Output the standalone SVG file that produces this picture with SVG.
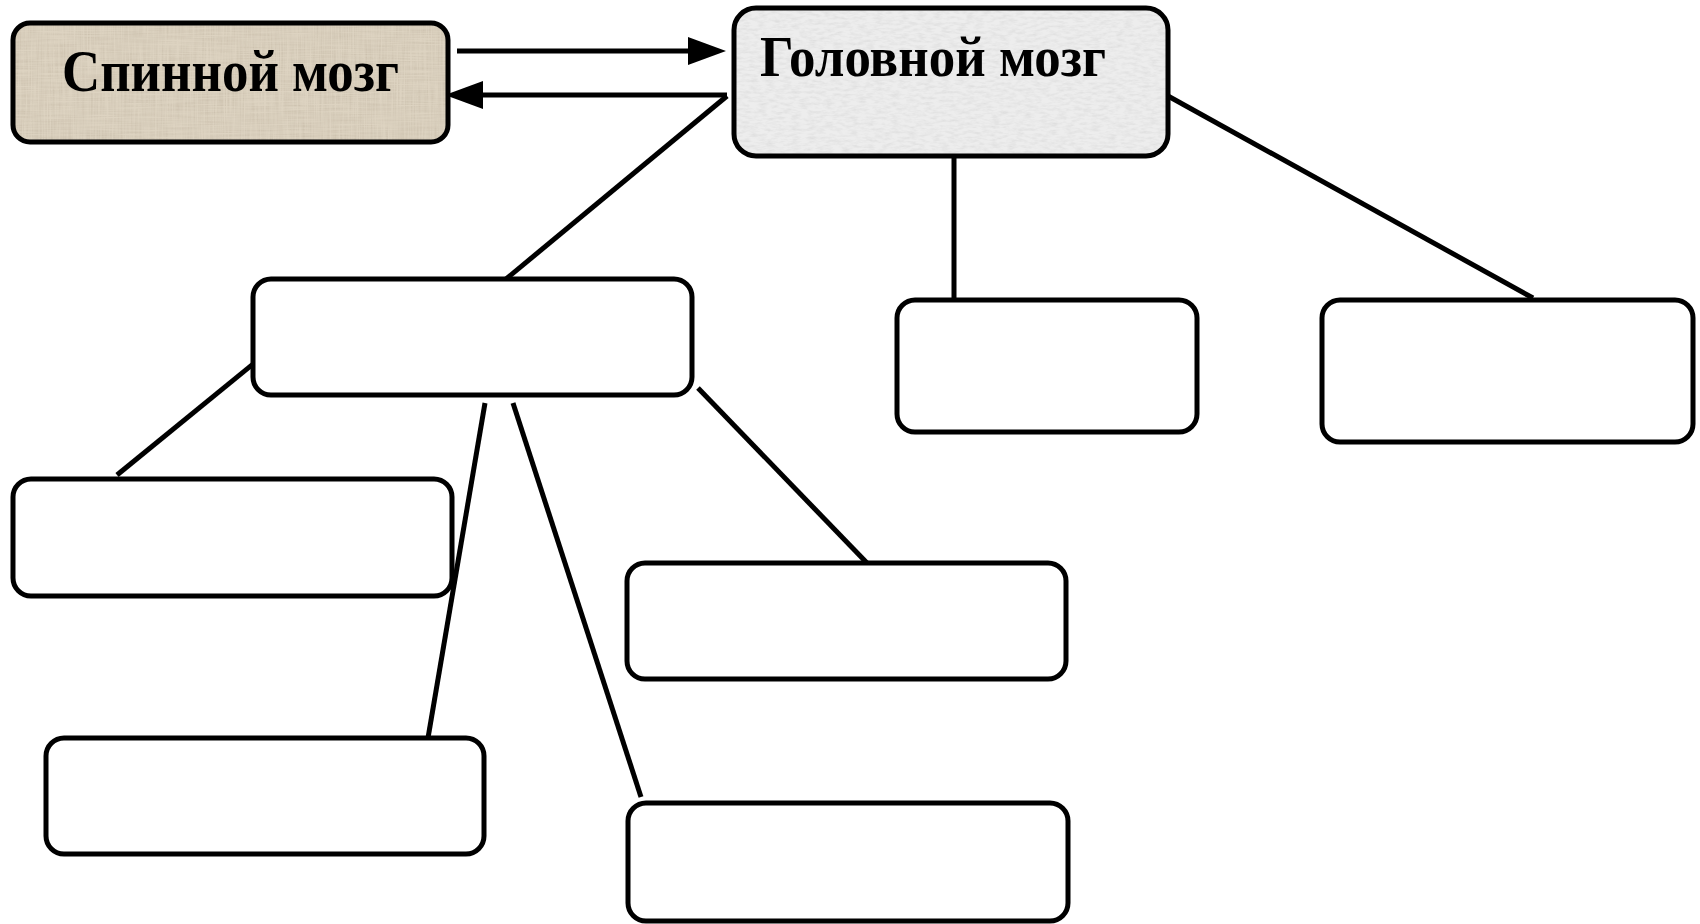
<svg xmlns="http://www.w3.org/2000/svg" width="1700" height="924" viewBox="0 0 1700 924">
<defs>
<style>
.box{fill:#ffffff;stroke:#000;stroke-width:5}
.frame{fill:none;stroke:#000;stroke-width:5}
.conn{stroke:#000;stroke-width:5;fill:none}
.title{font-family:"Liberation Serif","Times New Roman",serif;font-weight:bold;fill:#000}
</style>
<marker id="ah" markerUnits="userSpaceOnUse" markerWidth="40" markerHeight="30" refX="0" refY="14" orient="auto">
<path d="M0,0 L38,14 L0,28 Z" fill="#000"/>
</marker>
<filter id="linen" x="0" y="0" width="100%" height="100%">
<feTurbulence type="fractalNoise" baseFrequency="0.7 0.025" numOctaves="2" seed="3" result="n1"/>
<feTurbulence type="fractalNoise" baseFrequency="0.025 0.7" numOctaves="2" seed="9" result="n2"/>
<feBlend in="n1" in2="n2" mode="multiply" result="n"/>
<feColorMatrix in="n" type="matrix" values="0 0 0 0 0.6  0 0 0 0 0.53  0 0 0 0 0.42  2.0 0 0 0 -0.55" result="c"/>
<feComposite in="c" in2="SourceGraphic" operator="in" result="t"/>
<feMerge><feMergeNode in="SourceGraphic"/><feMergeNode in="t"/></feMerge>
</filter>
<filter id="granite" x="0" y="0" width="100%" height="100%">
<feTurbulence type="fractalNoise" baseFrequency="0.12 0.35" numOctaves="3" seed="5" result="n"/>
<feColorMatrix in="n" type="matrix" values="0 0 0 0 0.74  0 0 0 0 0.74  0 0 0 0 0.74  2.0 0 0 0 -0.75" result="c"/>
<feComposite in="c" in2="SourceGraphic" operator="in" result="t"/>
<feMerge><feMergeNode in="SourceGraphic"/><feMergeNode in="t"/></feMerge>
</filter>
</defs>
<rect x="0" y="0" width="1700" height="924" fill="#ffffff"/>

<g id="connectors">
<line class="conn" x1="457" y1="51" x2="688" y2="51" marker-end="url(#ah)"/>
<line class="conn" x1="727" y1="95" x2="483" y2="95" marker-end="url(#ah)"/>
<line class="conn" x1="727" y1="96" x2="500" y2="284"/>
<line class="conn" x1="954" y1="156" x2="954" y2="300"/>
<line class="conn" x1="1168" y1="96" x2="1533" y2="298"/>
<line class="conn" x1="258" y1="360" x2="117" y2="475"/>
<line class="conn" x1="485" y1="403" x2="428" y2="738"/>
<line class="conn" x1="513" y1="403" x2="641" y2="797"/>
<line class="conn" x1="698" y1="388" x2="867" y2="563"/>
</g>

<g id="spinal">
<rect x="13" y="23" width="435" height="119" rx="17" fill="#ddd3c1" filter="url(#linen)"/>
<rect class="frame" x="13" y="23" width="435" height="119" rx="17"/>
<text class="title" x="62" y="91" font-size="60" textLength="337" lengthAdjust="spacingAndGlyphs">Спинной мозг</text>
</g>

<g id="brain">
<rect x="734" y="8" width="434" height="148" rx="22" fill="#ededed" filter="url(#granite)"/>
<rect class="frame" x="734" y="8" width="434" height="148" rx="22"/>
<text class="title" x="760" y="76" font-size="58" textLength="346" lengthAdjust="spacingAndGlyphs">Головной мозг</text>
</g>

<g id="nodeA"><rect class="box" x="253" y="279" width="439" height="116" rx="18"/></g>
<g id="nodeB"><rect class="box" x="897" y="300" width="300" height="132" rx="18"/></g>
<g id="nodeC"><rect class="box" x="1322" y="300" width="371" height="142" rx="18"/></g>
<g id="nodeD"><rect class="box" x="13" y="479" width="439" height="117" rx="18"/></g>
<g id="nodeE"><rect class="box" x="627" y="563" width="439" height="116" rx="18"/></g>
<g id="nodeF"><rect class="box" x="46" y="738" width="438" height="116" rx="18"/></g>
<g id="nodeG"><rect class="box" x="628" y="803" width="440" height="118" rx="18"/></g>
</svg>
